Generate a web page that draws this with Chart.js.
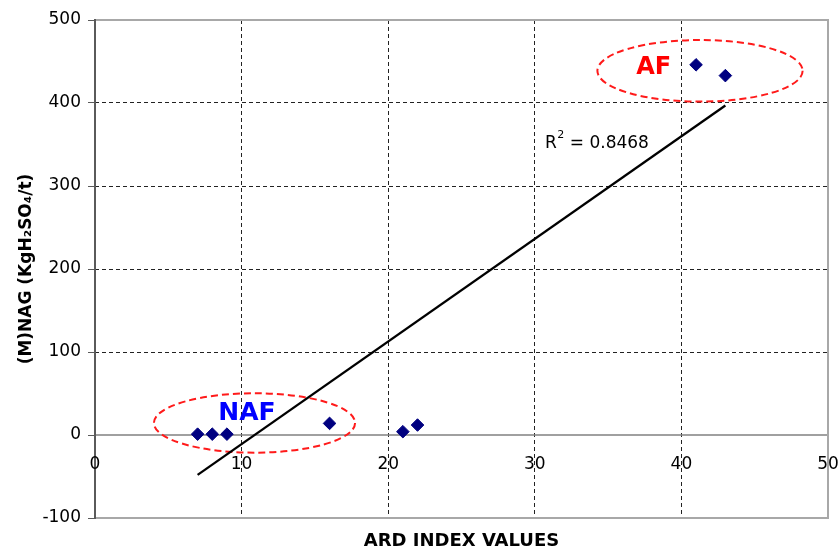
<!DOCTYPE html>
<html>
<head>
<meta charset="utf-8">
<script src="https://cdn.jsdelivr.net/npm/chart.js@4.4.1/dist/chart.umd.min.js"></script>
<style>
html,body{margin:0;padding:0;background:#ffffff;}
#wrap{width:839px;height:550px;}
</style>
</head>
<body>
<div id="wrap"><canvas id="c" width="839" height="550"></canvas></div>
<script>
// ---- data ----
const ardIndex  = [7, 8, 9, 16, 21, 22, 41, 43];
const nagValues = [1, 1, 1, 14, 4, 12, 446, 433];
const trendX = [7, 43];
const trendY = [-48, 397];
const rSquaredText = '0.8468';
const xTickValues = [0, 10, 20, 30, 40, 50];
const yTickValues = [-100, 0, 100, 200, 300, 400, 500];
const groupNames = ['AF', 'NAF'];
const xTitle = 'ARD INDEX VALUES';
const yTitle = '(M)NAG (KgH₂SO₄/t)';

// ---- annotation geometry (data units) ----
const groupEllipses = [
  {cx: 41.27, cy: 438.8, rx: 7.0, ry: 37.1},
  {cx: 10.88, cy: 14.5, rx: 6.86, ry: 35.8}
];
const groupLabelPos = [
  {x: 38.11, y: 434.6, color: '#ff0000', size: 24},
  {x: 10.37, y: 18.1, color: '#0000ff', size: 25}
];
const r2Pos = {x: 30.7, y: 345.8};

const FONT = '"DejaVu Sans", sans-serif';

const scatterData = ardIndex.map((v, i) => ({x: v, y: nagValues[i]}));
const trendData = trendX.map((v, i) => ({x: v, y: trendY[i]}));

const overlay = {
  id: 'overlay',
  beforeDatasetsDraw(chart) {
    const {ctx, chartArea: a, scales: {x, y}} = chart;
    ctx.save();
    ctx.setLineDash([]);
    // zero line
    const y0 = y.getPixelForValue(0);
    ctx.strokeStyle = '#808080';
    ctx.lineWidth = 1.5;
    ctx.beginPath(); ctx.moveTo(a.left, y0); ctx.lineTo(a.right, y0); ctx.stroke();
    // frame
    ctx.strokeStyle = '#a8a8a8';
    ctx.lineWidth = 2;
    ctx.beginPath();
    ctx.moveTo(a.left, a.top); ctx.lineTo(a.right, a.top);
    ctx.lineTo(a.right, a.bottom); ctx.lineTo(a.left, a.bottom);
    ctx.stroke();
    ctx.strokeStyle = '#5a5a5a';
    ctx.beginPath(); ctx.moveTo(a.left, a.top - 1); ctx.lineTo(a.left, a.bottom + 1); ctx.stroke();
    // ellipses
    ctx.strokeStyle = '#ff1a1a';
    ctx.lineWidth = 2;
    ctx.setLineDash([7, 4]);
    groupEllipses.forEach(e => {
      const px = x.getPixelForValue(e.cx), py = y.getPixelForValue(e.cy);
      const rxp = Math.abs(x.getPixelForValue(e.cx + e.rx) - px);
      const ryp = Math.abs(y.getPixelForValue(e.cy + e.ry) - py);
      ctx.beginPath(); ctx.ellipse(px, py, rxp, ryp, 0, 0, Math.PI * 2); ctx.stroke();
    });
    ctx.restore();
  },
  afterDatasetsDraw(chart) {
    const {ctx, scales: {x, y}} = chart;
    ctx.save();
    // x tick labels along zero line
    const y0 = y.getPixelForValue(0);
    ctx.fillStyle = '#000';
    ctx.font = '17px ' + FONT;
    ctx.textAlign = 'center';
    ctx.textBaseline = 'alphabetic';
    xTickValues.forEach(v => ctx.fillText(String(v), x.getPixelForValue(v), y0 + 34));
    // group labels
    groupNames.forEach((n, i) => {
      const p = groupLabelPos[i];
      ctx.fillStyle = p.color;
      ctx.font = 'bold ' + p.size + 'px ' + FONT;
      ctx.textAlign = 'center';
      ctx.fillText(n, x.getPixelForValue(p.x), y.getPixelForValue(p.y));
    });
    // R squared
    ctx.fillStyle = '#000';
    ctx.textAlign = 'left';
    let rx = x.getPixelForValue(r2Pos.x), ry = y.getPixelForValue(r2Pos.y);
    ctx.font = '17px ' + FONT;
    ctx.fillText('R', rx, ry);
    rx += ctx.measureText('R').width;
    ctx.font = '11px ' + FONT;
    ctx.fillText('2', rx + 0.5, ry - 9.5);
    rx += ctx.measureText('2').width + 0.5;
    ctx.font = '17px ' + FONT;
    ctx.fillText(' = ' + rSquaredText, rx, ry);
    ctx.restore();
  }
};

new Chart(document.getElementById('c'), {
  type: 'scatter',
  data: {
    datasets: [
      {
        type: 'line',
        data: trendData,
        borderColor: '#000000',
        borderWidth: 2.3,
        pointRadius: 0,
        fill: false,
        tension: 0,
        order: 2
      },
      {
        type: 'scatter',
        data: scatterData,
        pointStyle: 'rectRot',
        pointRadius: 6.3,
        backgroundColor: '#000080',
        borderColor: '#000080',
        borderWidth: 1,
        order: 1
      }
    ]
  },
  options: {
    responsive: false,
    animation: false,
    devicePixelRatio: 1,
    layout: {padding: {top: 20, right: 11, left: 0, bottom: 0}},
    plugins: {legend: {display: false}, tooltip: {enabled: false}},
    scales: {
      x: {
        type: 'linear',
        min: xTickValues[0],
        max: xTickValues[xTickValues.length - 1],
        afterBuildTicks: s => { s.ticks = xTickValues.map(v => ({value: v})); },
        ticks: {display: false},
        border: {display: false, dash: [4, 3]},
        grid: {
          drawTicks: false,
          color: c => (c.tick && (c.tick.value === 0 || c.tick.value === 50)) ? 'rgba(0,0,0,0)' : '#222222',
          lineWidth: 1
        },
        title: {
          display: true,
          text: xTitle,
          color: '#000',
          font: {family: FONT, size: 18, weight: 'bold'},
          padding: {top: 0, bottom: -2}
        },
        afterFit: s => { s.height = 32; }
      },
      y: {
        type: 'linear',
        min: yTickValues[0],
        max: yTickValues[yTickValues.length - 1],
        afterBuildTicks: s => { s.ticks = yTickValues.map(v => ({value: v})); },
        ticks: {color: '#000', font: {family: FONT, size: 17}, padding: 7},
        border: {display: false, dash: [4, 3]},
        grid: {
          drawTicks: true,
          tickLength: 7,
          tickColor: '#5a5a5a',
          tickWidth: 1,
          tickBorderDash: [],
          color: c => (c.tick && (c.tick.value === 0 || c.tick.value === -100 || c.tick.value === 500)) ? 'rgba(0,0,0,0)' : '#222222',
          lineWidth: 1
        },
        title: {
          display: true,
          text: yTitle,
          color: '#000',
          font: {family: FONT, size: 17, weight: 'bold'},
          padding: {top: 16, bottom: 0}
        },
        afterFit: s => { s.width = 95; }
      }
    }
  },
  plugins: [overlay]
});
</script>
</body>
</html>
